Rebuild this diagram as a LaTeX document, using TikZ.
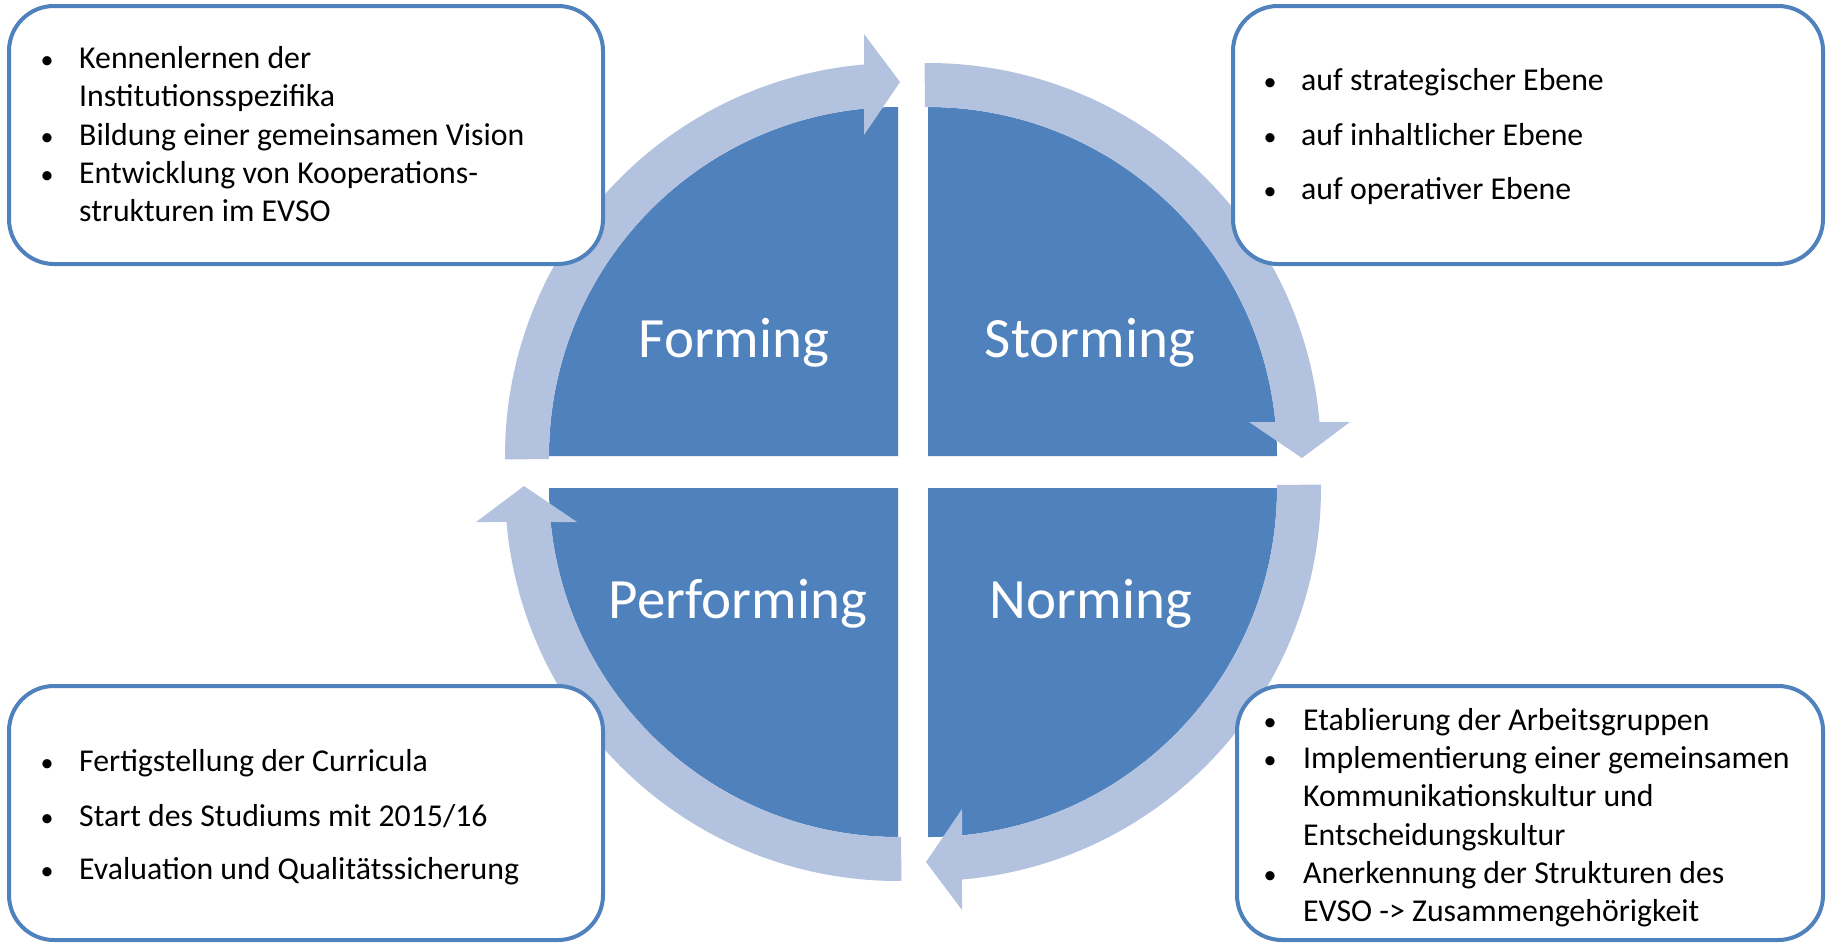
\documentclass[tikz,border=0pt]{standalone}
\usepackage{fontspec}
\setmainfont{Carlito}
\definecolor{qblue}{HTML}{4F81BD}
\definecolor{qband}{HTML}{B3C2DE}
\definecolor{qborder}{HTML}{4F81BD}
\begin{document}
\begin{tikzpicture}[x=1pt,y=-1pt,
  quad/.style={fill=qblue},
  band/.style={fill=qband},
  infobox/.style={draw=qborder, line width=4pt, rounded corners=45pt, fill=white, outer sep=0pt, inner sep=0pt, anchor=north west},
  itemtext/.style={anchor=base west, inner sep=0pt, font=\fontsize{31.8}{38}\selectfont},
  bul/.style={anchor=base, inner sep=0pt, font=\fontsize{26}{32}\selectfont},
  phase/.style={anchor=base, inner sep=0pt, text=white, font=\fontsize{57}{68}\selectfont}]
\useasboundingbox (0,0) rectangle (1827,943);
% quadrant shapes
\newcommand{\quadshape}{%
  \fill[quad] (0,0) -- (180:349) arc[start angle=180,end angle=270,radius=349] -- cycle;
  \fill[band] (179.5:393) arc[start angle=179.5,end angle=265.04,radius=393] -- (-34,-422) -- (2,-374) -- (-34,-321) -- (264.41:349) arc[start angle=264.41,end angle=179.5,radius=349] -- cycle;}
\begin{scope}[shift={(898,456)}]\quadshape\end{scope}
\begin{scope}[shift={(928,456)},rotate=-90]\quadshape\end{scope}
\begin{scope}[shift={(928,488)},rotate=-180]\quadshape\end{scope}
\begin{scope}[shift={(898,488)},rotate=90]\quadshape\end{scope}
% phase labels
\node[phase] (forming) at (734,357) {Forming};
\node[phase] (storming) at (1090,357) {Storming};
\node[phase] (norming) at (1091,618) {Norming};
\node[phase] (performing) at (738,618) {Performing};
% boxes
\node[infobox, minimum width=594pt, minimum height=258pt] (boxtl) at (9,6) {};
\node[infobox, minimum width=590pt, minimum height=258pt] (boxtr) at (1233,6) {};
\node[infobox, minimum width=594pt, minimum height=254pt] (boxbl) at (9,686) {};
\node[infobox, minimum width=586pt, minimum height=254pt] (boxbr) at (1237,686) {};
% top-left text
\node[bul] (tlb1) at (47,68) {•};
\node[itemtext] (tl1) at (79,68) {Kennenlernen der};
\node[itemtext] (tl2) at (79,106.7) {Institutionsspezifika};
\node[bul] (tlb2) at (47,145.7) {•};
\node[itemtext] (tl3) at (79,145.7) {Bildung einer gemeinsamen Vision};
\node[bul] (tlb3) at (47,183.3) {•};
\node[itemtext] (tl4) at (79,183.3) {Entwicklung von Kooperations-};
\node[itemtext] (tl5) at (79,221.7) {strukturen im EVSO};
% top-right text
\node[bul] (trb1) at (1270,90) {•};
\node[itemtext] (tr1) at (1301,90) {auf strategischer Ebene};
\node[bul] (trb2) at (1270,145) {•};
\node[itemtext] (tr2) at (1301,145) {auf inhaltlicher Ebene};
\node[bul] (trb3) at (1270,199.3) {•};
\node[itemtext] (tr3) at (1301,199.3) {auf operativer Ebene};
% bottom-left text
\node[bul] (blb1) at (47,771.7) {•};
\node[itemtext] (bl1) at (79,771.7) {Fertigstellung der Curricula};
\node[bul] (blb2) at (47,826) {•};
\node[itemtext] (bl2) at (79,826) {Start des Studiums mit 2015/16};
\node[bul] (blb3) at (47,879.3) {•};
\node[itemtext] (bl3) at (79,879.3) {Evaluation und Qualitätssicherung};
% bottom-right text
\node[bul] (brb1) at (1270,730) {•};
\node[itemtext] (br1) at (1303,730) {Etablierung der Arbeitsgruppen};
\node[bul] (brb2) at (1270,768.3) {•};
\node[itemtext] (br2) at (1303,768.3) {Implementierung einer gemeinsamen};
\node[itemtext] (br3) at (1303,806.7) {Kommunikationskultur und};
\node[itemtext] (br4) at (1303,845) {Entscheidungskultur};
\node[bul] (brb3) at (1270,883.3) {•};
\node[itemtext] (br5) at (1303,883.3) {Anerkennung der Strukturen des};
\node[itemtext] (br6) at (1303,921.7) {EVSO -> Zusammengehörigkeit};
\end{tikzpicture}
\end{document}
